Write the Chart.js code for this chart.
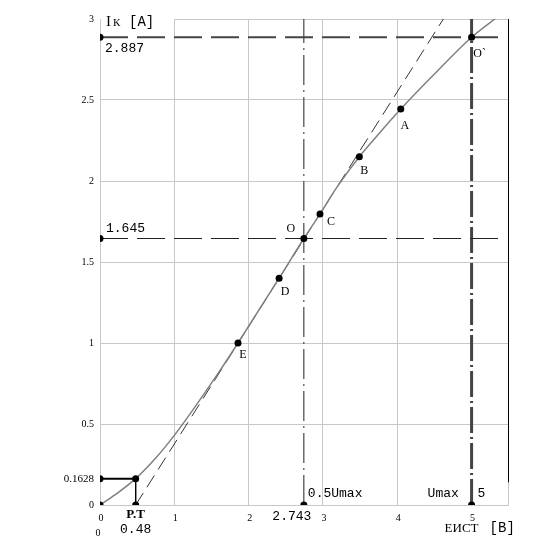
<!DOCTYPE html>
<html>
<head>
<meta charset="utf-8">
<script src="https://cdn.jsdelivr.net/npm/chart.js@4"></script>
<style>
body { margin: 0; background: #fff; }
</style>
</head>
<body>
<canvas id="grafico" width="536" height="541"></canvas>
<script>
// Característica Ik(Eист)
const curvaX = [0, 0.2, 0.48, 0.75, 1.0, 1.3, 1.6, 1.857, 2.41, 2.743, 2.96, 3.2, 3.49, 3.75, 4.047, 4.5, 5.0, 5.34]
const curvaY = [0, 0.062, 0.1628, 0.29, 0.43, 0.62, 0.82, 1.0, 1.40, 1.645, 1.796, 1.97, 2.15, 2.29, 2.444, 2.66, 2.887, 3.01]

// Касательная через O
const tangX = [0.48, 4.62]
const tangY = [0, 3]

// Особые точки
const E_PT = 0.48
const I_PT = 0.1628
const E_O = 2.743
const I_O = 1.645
const E_MAX = 5
const I_MAX = 2.887
const E_LINEA = 5.38

const puntosNombre = ['A', 'B', 'C', 'D', 'E']
const puntosX = [4.047, 3.49, 2.96, 2.41, 1.857]
const puntosY = [2.444, 2.15, 1.796, 1.40, 1.0]

const ticksX = [0, 1, 2, 3, 4, 5]
const ticksY = [0, 0.5, 1, 1.5, 2, 2.5, 3]

const xy = (xs, ys) => xs.map((x, i) => ({ x: x, y: ys[i] }))

const puntosNegros = xy(
  [0, 0, 0, 0, E_PT, E_PT, E_O, E_MAX, E_O, E_MAX].concat(puntosX),
  [I_MAX, I_O, I_PT, 0, I_PT, 0, 0, 0, I_O, I_MAX].concat(puntosY)
)

// textos
const textos = {
  id: 'textos',
  afterDatasetsDraw(chart) {
    const c = chart.ctx
    const sx = chart.scales.x
    const sy = chart.scales.y
    const a = chart.chartArea
    const px = v => sx.getPixelForValue(v)
    const py = v => sy.getPixelForValue(v)
    c.save()

    // borde derecho
    c.strokeStyle = '#000'
    c.lineWidth = 1
    c.beginPath()
    c.moveTo(a.right + 0.5, a.top)
    c.lineTo(a.right + 0.5, py(0.14))
    c.stroke()

    c.fillStyle = '#000'
    c.textBaseline = 'middle'

    // ticks Y
    c.font = '10px "Liberation Serif"'
    c.textAlign = 'right'
    ticksY.forEach(v => c.fillText(String(v), a.left - 6, py(v)))
    c.font = '11px "Liberation Serif"'
    c.fillText(String(I_PT), a.left - 6, py(I_PT))

    // ticks X
    c.font = '10px "Liberation Serif"'
    c.textAlign = 'center'
    ticksX.forEach(v => c.fillText(String(v), px(v) + 1, a.bottom + 13))
    c.fillText('0', px(0) - 2, a.bottom + 28)

    // titulo Y con fondo blanco
    c.fillStyle = '#fff'
    c.fillRect(a.left + 1, a.top - 8, 73, 16)
    c.fillStyle = '#000'
    c.textAlign = 'left'
    c.font = '15px "Liberation Serif"'
    c.fillText('I', a.left + 6, a.top + 3)
    c.font = '11px "Liberation Serif"'
    c.fillText('К', a.left + 13, a.top + 4)
    c.font = '14px "Liberation Mono"'
    c.fillText('[A]', a.left + 29, a.top + 3)

    // valores mono
    c.font = '13px "Liberation Mono"'
    c.fillText(String(I_MAX), a.left + 5, py(I_MAX) + 11)
    c.fillText(String(I_O), a.left + 6, py(I_O) - 10)
    c.textAlign = 'center'
    c.fillText(String(E_PT), px(E_PT), a.bottom + 25)
    c.fillText(String(E_O), px(E_O) - 12, a.bottom + 12)
    c.textAlign = 'left'
    c.fillText('0.5Umax', px(E_O) + 4, a.bottom - 11)
    c.fillText('Umax', px(E_MAX) - 44, a.bottom - 11)
    c.fillText('5', px(E_MAX) + 6, a.bottom - 11)
    c.font = '13px "Liberation Serif"'
    c.fillText('EИСТ', px(E_MAX) - 27, a.bottom + 24)
    c.font = '14px "Liberation Mono"'
    c.fillText('[B]', px(E_MAX) + 18, a.bottom + 23)

    c.font = 'bold 13px "Liberation Serif"'
    c.textAlign = 'center'
    c.fillText('P.T', px(E_PT), a.bottom + 10)

    // nombres de puntos
    c.font = '12px "Liberation Serif"'
    const desp = { A: [4, 17], B: [5, 14], C: [11, 8], D: [6, 14], E: [5, 12] }
    puntosNombre.forEach((n, i) => {
      c.fillText(n, px(puntosX[i]) + desp[n][0], py(puntosY[i]) + desp[n][1])
    })
    c.fillText('O', px(E_O) - 13, py(I_O) - 10)
    c.fillText('O`', px(E_MAX) + 8, py(I_MAX) + 17)
    c.restore()
  }
}

const ctx = document.getElementById('grafico').getContext('2d')
new Chart(ctx, {
  type: 'scatter',
  data: {
    datasets: [
      {
        data: puntosNegros,
        pointRadius: 3.5,
        pointBackgroundColor: '#000',
        pointBorderWidth: 0,
        showLine: false,
        order: 0
      },
      {
        data: xy([0, E_PT], [I_PT, I_PT]),
        showLine: true, pointRadius: 0,
        borderColor: '#000', borderWidth: 2, order: 1
      },
      {
        data: xy([E_PT, E_PT], [I_PT, 0]),
        showLine: true, pointRadius: 0,
        borderColor: '#000', borderWidth: 1, order: 1
      },
      {
        data: xy(curvaX, curvaY),
        showLine: true, pointRadius: 0,
        borderColor: '#808080', borderWidth: 1.5,
        cubicInterpolationMode: 'monotone', order: 2
      },
      {
        data: xy(tangX, tangY),
        showLine: true, pointRadius: 0,
        borderColor: '#333', borderWidth: 1,
        borderDash: [14, 7], order: 3
      },
      {
        data: xy([0, E_LINEA], [I_MAX, I_MAX]),
        showLine: true, pointRadius: 0,
        borderColor: '#444', borderWidth: 2,
        borderDash: [28, 9], order: 4
      },
      {
        data: xy([0, E_LINEA], [I_O, I_O]),
        showLine: true, pointRadius: 0,
        borderColor: '#222', borderWidth: 1,
        borderDash: [28, 9], order: 4
      },
      {
        data: xy([E_O, E_O], [0, 3]),
        showLine: true, pointRadius: 0,
        borderColor: '#222', borderWidth: 1,
        borderDash: [30, 5, 2, 5], order: 4
      },
      {
        data: xy([E_MAX, E_MAX], [0, 3]),
        showLine: true, pointRadius: 0,
        borderColor: '#444', borderWidth: 3,
        borderDash: [26, 4, 2, 4], order: 4
      }
    ]
  },
  options: {
    responsive: false,
    animation: false,
    layout: { padding: { left: 100, right: 28, top: 19, bottom: 36 } },
    plugins: { legend: { display: false }, tooltip: { enabled: false } },
    scales: {
      x: {
        type: 'linear', min: 0, max: 5.49,
        ticks: { display: false, stepSize: 1 },
        grid: { color: '#c8c8c8', drawTicks: false },
        border: { color: '#c8c8c8' }
      },
      y: {
        min: 0, max: 3,
        ticks: { display: false, stepSize: 0.5 },
        grid: { color: '#c8c8c8', drawTicks: false },
        border: { color: '#c8c8c8' }
      }
    }
  },
  plugins: [textos]
})
</script>
</body>
</html>
